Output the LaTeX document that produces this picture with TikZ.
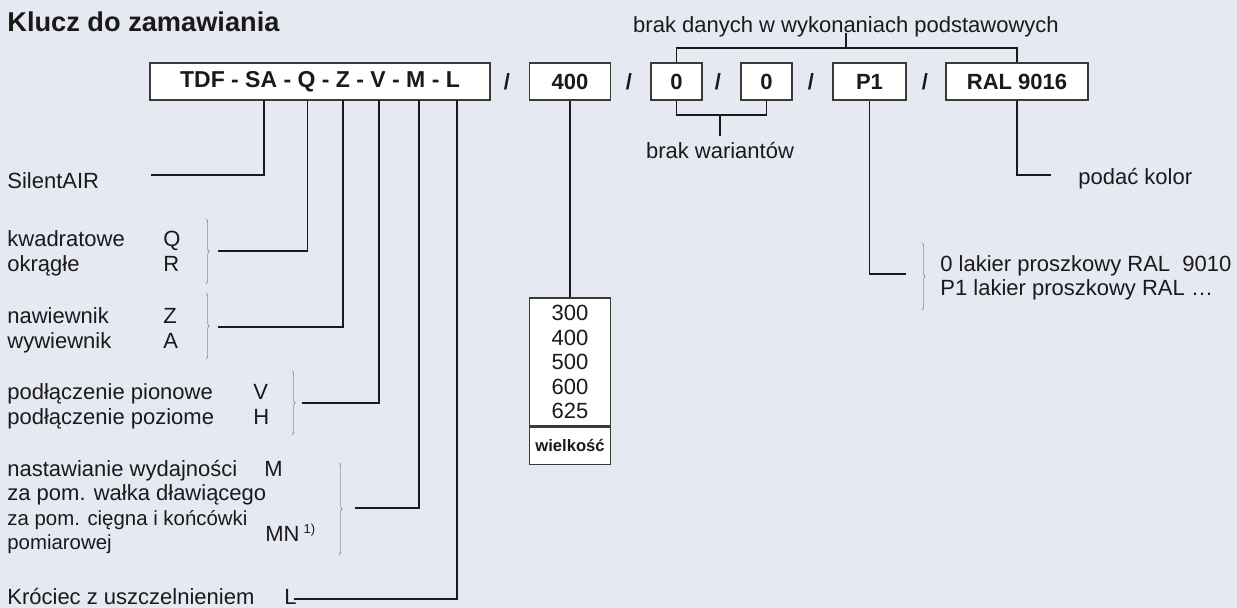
\documentclass[tikz,border=0pt]{standalone}
\usepackage{fontspec}
\setmainfont{Liberation Sans}
\usetikzlibrary{positioning,calc,decorations.pathreplacing}
\definecolor{paper}   {RGB}{230,233,242}
\definecolor{ink}     {HTML}{1A1A1A}
\definecolor{frame}   {HTML}{3A3A3A}
\definecolor{bracecol}{HTML}{8C8C8C}
\tikzset{
  every node/.style={font=\fontsize{11}{12}\selectfont, text=ink},
  % --- nodes
  key/.style   = {draw=frame, fill=white, line width=0.7pt, inner sep=0pt,
                  minimum height=18.5pt, font=\fontsize{11}{12}\selectfont\bfseries},
  sep/.style   = {inner sep=0pt, font=\fontsize{11}{12}\selectfont\bfseries},
  lbl/.style   = {anchor=base west, inner sep=0pt},
  small/.style = {lbl, font=\fontsize{10.2}{12}\selectfont},
  sizebox/.style={draw=frame, fill=white, line width=0.7pt, inner sep=0pt,
                  minimum width=40.5pt, align=center},
  % --- edges
  e/.style     = {draw=ink, line width=0.6pt},
  brc/.style   = {draw=bracecol, line width=0.35pt, decorate,
                  decoration={brace, amplitude=1.6pt}},
}
\begin{document}
\begin{tikzpicture}[x=0.5pt,y=-0.5pt]
  \useasboundingbox (0,0) rectangle (1237,608);
  \fill[paper] (0,0) rectangle (1237,608);

  \node[lbl, font=\fontsize{13.6}{16}\selectfont\bfseries] (title) at (7,32) {Klucz do zamawiania};

  % --- code line
  \node[key, minimum width=170pt, font=\fontsize{11.5}{12}\selectfont\bfseries] (code) at (320,81.5)
       {TDF - SA - Q - Z - V - M - L};
  \node[sep] (s1) at (507,81.5) {/};
  \node[key, minimum width=40.5pt] (b400) at (570,81.5) {400};
  \node[sep] (s2) at (629,81.5) {/};
  \node[key, minimum width=25.5pt] (b0a) at (676.5,81.5) {0};
  \node[sep] (s3) at (718,81.5) {/};
  \node[key, minimum width=25.5pt] (b0b) at (766.5,81.5) {0};
  \node[sep] (s4) at (811,81.5) {/};
  \node[key, minimum width=36.5pt] (bP1) at (869.5,81.5) {P1};
  \node[sep] (s5) at (925,81.5) {/};
  \node[key, minimum width=71pt] (bRAL) at (1017,81.5) {RAL 9016};

  % --- taps on the code box
  \coordinate (tSA) at (264,100);
  \coordinate (tQ)  at (307.5,100);
  \coordinate (tZ)  at (343,100);
  \coordinate (tV)  at (379,100);
  \coordinate (tM)  at (419,100);
  \coordinate (tL)  at (457,100);

  % --- top and bottom brackets
  \node[inner sep=0pt] (nbd) at (846,27) {brak danych w wykonaniach podstawowych};
  \coordinate (top) at (846,48);
  \draw[e] (b0a.north) |- (top) -| (bRAL.north);
  \draw[e] (top) -- (top |- nbd.base);
  \node (nbw) at (720,151) {brak wariantów};
  \coordinate (bot) at (720,115);
  \draw[e] (b0a.south) |- (bot) -| (b0b.south);
  \draw[e] (bot) -- (nbw.north);

  % --- colour
  \coordinate (cRAL) at (1051,175);
  \draw[e] (bRAL.south) |- (cRAL);
  \node[lbl] (nkol) at (1078,185) {podać kolor};

  \coordinate (cP1) at (906,274);
  \draw[e] (bP1.south) |- (cP1);
  \draw[brc] (922,243) -- (922,310);
  \node[lbl] (nlak1) at (940,272) {0 lakier proszkowy RAL~~9010};
  \node[lbl] (nlak2) at (940,296) {P1 lakier proszkowy RAL~…};

  % --- sizes
  \node[sizebox, minimum height=64pt, font=\fontsize{11}{12.25}\selectfont] (sizes) at (570,362)
       {300\\400\\500\\600\\625};
  \node[sizebox, minimum height=18.5pt, anchor=north, font=\fontsize{8.3}{10}\selectfont\bfseries]
       (wlk) at (sizes.south) {wielkość};
  \draw[line width=1.1pt, frame] (sizes.south west) -- (sizes.south east);
  \draw[e] (b400) -- (sizes);

  % --- left column
  \node[lbl] (nsa) at (7,189) {SilentAIR};
  \coordinate (cSA) at (151,175);
  \draw[e] (tSA) |- (cSA);

  \node[lbl] (nkw) at (7,247) {kwadratowe};   \node[lbl] (kQ) at (163,247) {Q};
  \node[lbl] (nok) at (7,272) {okrągłe};      \node[lbl] (kR) at (163,272) {R};
  \draw[brc] (206,219) -- (206,284);
  \coordinate (cQ) at (218,251);
  \draw[e] (tQ) |- (cQ);

  \node[lbl] (nna) at (7,324) {nawiewnik};    \node[lbl] (kZ) at (163,324) {Z};
  \node[lbl] (nwy) at (7,349) {wywiewnik};    \node[lbl] (kA) at (163,349) {A};
  \draw[brc] (206,293) -- (206,359);
  \coordinate (cZ) at (218,327);
  \draw[e] (tZ) |- (cZ);

  \node[lbl] (npi) at (7,400) {podłączenie pionowe};  \node[lbl] (kV) at (253,400) {V};
  \node[lbl] (npo) at (7,425) {podłączenie poziome};  \node[lbl] (kH) at (253,425) {H};
  \draw[brc] (292,371) -- (292,435);
  \coordinate (cV) at (302,403);
  \draw[e] (tV) |- (cV);

  \node[lbl] (nns) at (7,477) {nastawianie wydajności};  \node[lbl] (kM) at (264,477) {M};
  \node[lbl] (nwa) at (7,501) {za pom. wałka dławiącego};
  \node[small] (nci) at (7,526) {za pom. cięgna i końcówki};
  \node[small] (npm) at (7,550) {pomiarowej};
  \node[lbl] (kMN) at (265,542) {MN\hspace{2pt}\raisebox{4pt}{\fontsize{6.5}{7}\selectfont 1)}};
  \draw[brc] (339,463) -- (339,555);
  \coordinate (cM) at (355,508);
  \draw[e] (tM) |- (cM);

  \node[lbl] (nkr) at (7,605) {Króciec z uszczelnieniem};  \node[lbl] (kL) at (284,605) {L};
  \coordinate (cL) at (294,599);
  \draw[e] (tL) |- (cL);
\end{tikzpicture}
\end{document}
